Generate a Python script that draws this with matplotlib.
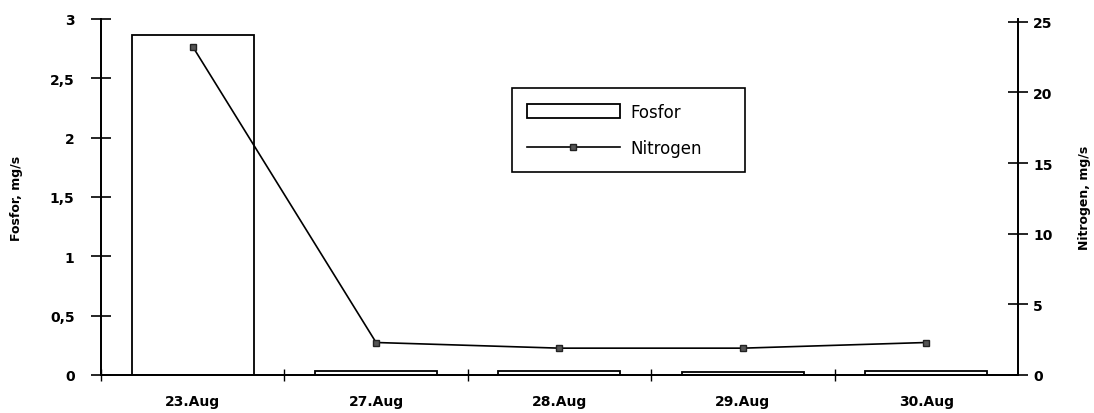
import numpy as np
import matplotlib.pyplot as plt
from matplotlib.ticker import FixedLocator, FuncFormatter

# values
dates = ['23.Aug', '27.Aug', '28.Aug', '29.Aug', '30.Aug']
fosfor = [2.865, 0.03, 0.03, 0.025, 0.03]
nitrogen = [23.25, 2.3, 1.9, 1.9, 2.3]

plt.rcParams['font.family'] = ['DejaVu Sans']

fig = plt.figure(figsize=(10.94, 4.14), dpi=100)
ax = fig.add_axes([0.0923, 0.0918, 0.8382, 0.8599])
ax2 = ax.twinx()

x = np.arange(len(dates))
ax.bar(x, fosfor, width=0.665, facecolor='white', edgecolor='black', linewidth=1.3, label='Fosfor')
ax2.plot(x, nitrogen, color='black', linewidth=1.2, marker='s', markersize=5,
         markerfacecolor='#555555', markeredgecolor='#222222', label='Nitrogen')

ax.set_xlim(-0.5, len(dates) - 0.5)
ax.set_ylim(0, 3)
ax2.set_ylim(0, 25.2)

# category labels in the middle, ticks on the boundaries
ax.xaxis.set_major_locator(FixedLocator(x - 0.5))
ax.xaxis.set_major_formatter(FuncFormatter(lambda v, p: ''))
ax.set_xticks(x, dates, minor=True)
ax.tick_params(axis='x', which='minor', length=0, pad=14, labelsize=10)
ax.tick_params(axis='x', which='major', direction='inout', length=8, width=1)

ax.set_yticks([0, 0.5, 1, 1.5, 2, 2.5, 3])
ax.yaxis.set_major_formatter(FuncFormatter(lambda v, p: ('%g' % v).replace('.', ',')))
ax.tick_params(axis='y', direction='inout', length=14, width=1.2, labelsize=10, pad=12)
ax2.set_yticks([0, 5, 10, 15, 20, 25])
ax2.tick_params(axis='y', direction='inout', length=14, width=1.2, labelsize=10, pad=4)

for a in (ax, ax2):
    a.spines['top'].set_visible(False)
    for s in ('left', 'right', 'bottom'):
        a.spines[s].set_linewidth(1.3)
for lab in ax.get_xticklabels(minor=True) + ax.get_yticklabels() + ax2.get_yticklabels():
    lab.set_fontweight('bold')

ax.set_ylabel('Fosfor, mg/s', fontsize=9, fontweight='bold', labelpad=19)
ax2.set_ylabel('Nitrogen, mg/s', fontsize=9, fontweight='bold', rotation=90, labelpad=18)

h1, l1 = ax.get_legend_handles_labels()
h2, l2 = ax2.get_legend_handles_labels()
leg = ax2.legend(h1 + h2, l1 + l2, loc='upper left', mode='expand',
                 bbox_to_anchor=(0.448, 0.573, 0.254, 0.233),
                 fancybox=False, edgecolor='black', framealpha=1, fontsize=12,
                 handlelength=5.6, handleheight=0.9, handletextpad=0.6,
                 borderpad=0.9, labelspacing=1.1, borderaxespad=0)
leg.get_frame().set_linewidth(1.2)

fig.savefig('out.png', dpi=100)
